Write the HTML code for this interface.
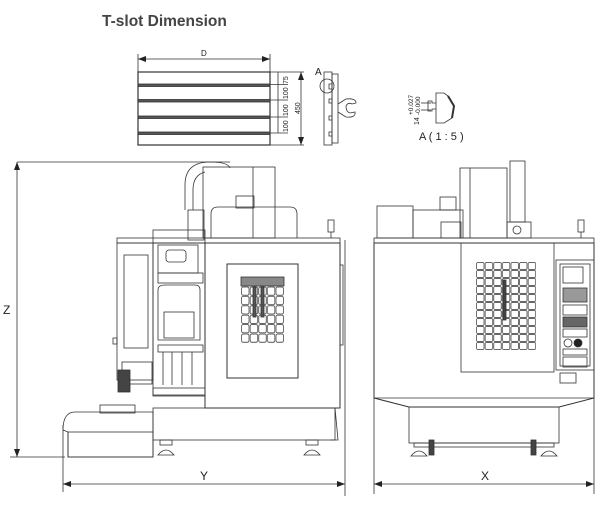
<!DOCTYPE html>
<html><head><meta charset="utf-8"><style>
html,body{margin:0;padding:0;background:#fff;}
svg{display:block;}
text{font-family:"Liberation Sans",Arial,sans-serif;fill:#222;}
</style></head><body>
<svg width="603" height="506" viewBox="0 0 603 506" xmlns="http://www.w3.org/2000/svg">
<defs>
<pattern id="g1" x="241" y="277" width="8.6" height="9.4" patternUnits="userSpaceOnUse">
<rect x="0.6" y="0.6" width="7.4" height="8.2" rx="1.5" fill="none" stroke="#333" stroke-width="0.7"/></pattern>
<pattern id="g2" x="476" y="262" width="8.6" height="8" patternUnits="userSpaceOnUse">
<rect x="0.6" y="0.6" width="7.4" height="6.8" rx="1" fill="none" stroke="#333" stroke-width="0.7"/></pattern>
<marker id="ar" markerWidth="8" markerHeight="6" refX="8" refY="3" orient="auto-start-reverse" markerUnits="userSpaceOnUse"><path d="M0,0 L8,3 L0,6z" fill="#222"/></marker>
</defs>
<text x="102" y="26" font-size="15.5" font-weight="bold" fill="#444" style="fill:#444">T-slot Dimension</text>

<g fill="none" stroke="#333" stroke-width="0.8">
<!-- T-slot table -->
<line x1="138" y1="54" x2="138" y2="72"/><line x1="270" y1="54" x2="270" y2="72"/>
<line x1="138" y1="59" x2="270" y2="59" marker-start="url(#ar)" marker-end="url(#ar)"/>
<rect x="138" y="72" width="132" height="73" stroke-width="1.2"/>
<rect x="138" y="84" width="132" height="2.5" fill="#555"/>
<rect x="138" y="99.5" width="132" height="2.5" fill="#555"/>
<rect x="138" y="116" width="132" height="2.5" fill="#555"/>
<rect x="138" y="132" width="132" height="2.5" fill="#555"/>
<line x1="270" y1="72" x2="304" y2="72"/><line x1="270" y1="145" x2="304" y2="145"/>
<line x1="270" y1="84.5" x2="288" y2="84.5"/><line x1="270" y1="100" x2="288" y2="100"/><line x1="270" y1="117" x2="288" y2="117"/><line x1="270" y1="133" x2="288" y2="133"/>
<line x1="278" y1="72" x2="278" y2="133"/>
<line x1="301" y1="72" x2="301" y2="145" marker-start="url(#ar)" marker-end="url(#ar)"/>
<!-- side view -->
<rect x="324" y="72" width="8" height="73"/>
<rect x="332" y="74" width="6" height="69"/>
<path d="M332,84 h-3 v5 h3 M332,99 h-3 v4 h3 M332,116 h-3 v4 h3 M332,132 h-3 v4 h3"/>
<path d="M338,104 L346,99 Q356,98 356,103 L352,104 Q348,102 346,106 Q346,112 350,113 L355,112 Q356,118 346,117 L338,112"/>
<circle cx="327" cy="86" r="7"/>
<!-- detail A -->
<path d="M436,93 h8 l4,3 l6,10 l-2,12 l-8,5 h-8 z"/>
<path d="M436,103 h-4 v-2 h-4 v10 h4 v-2 h4"/>
<path d="M448,96 l6,10 l-2,12" stroke-width="2"/>
<line x1="421" y1="103" x2="431" y2="103"/><line x1="421" y1="110" x2="431" y2="110"/>

<!-- LEFT MACHINE -->
<line x1="17" y1="162" x2="230" y2="162"/>
<line x1="10" y1="457" x2="65" y2="457"/>
<line x1="17" y1="162" x2="17" y2="457" marker-start="url(#ar)" marker-end="url(#ar)"/>
<line x1="63" y1="425" x2="63" y2="492"/><line x1="345" y1="240" x2="345" y2="496"/>
<line x1="63" y1="484" x2="345" y2="484" marker-start="url(#ar)" marker-end="url(#ar)"/>
<!-- duct -->
<path d="M185,210 V185 Q185,162 210,162 Q228,162 230,168"/>
<path d="M193,210 V190 Q193,175 205,172"/>
<rect x="188" y="210" width="16" height="30"/>
<rect x="203" y="167" width="72" height="71"/>
<line x1="253" y1="167" x2="253" y2="238"/>
<rect x="236" y="196" width="18" height="12"/>
<path d="M211,238 V214 Q211,207 218,207 H290 Q297,207 297,214 V238"/>
<rect x="153" y="230" width="52" height="13"/>
<rect x="117" y="238" width="223" height="5"/>
<rect x="328" y="220" width="6" height="12"/>
<line x1="331" y1="232" x2="331" y2="238"/>
<!-- main body -->
<rect x="205" y="243" width="135" height="165" stroke-width="1"/>
<rect x="227" y="264" width="71" height="114" stroke-width="1"/>
<rect x="241" y="277" width="43" height="66" fill="url(#g1)" stroke="none"/>
<rect x="241" y="277" width="43" height="9" fill="#888"/>
<rect x="253" y="287" width="3" height="30" fill="#555"/><rect x="261" y="287" width="3" height="30" fill="#555"/>
<rect x="340" y="265" width="3" height="80"/>
<!-- left panel -->
<rect x="117" y="243" width="36" height="137"/>
<rect x="124" y="255" width="24" height="93"/>
<rect x="113" y="338" width="4" height="6"/>
<!-- middle column -->
<rect x="153" y="243" width="52" height="152"/>
<rect x="158" y="245" width="40" height="28"/>
<rect x="166" y="250" width="20" height="12" rx="3"/>
<rect x="158" y="273" width="45" height="10"/>
<path d="M158,290 Q158,285 165,285 H195 Q200,285 200,290 V340 H158 Z"/>
<rect x="164" y="312" width="30" height="26"/>
<rect x="158" y="345" width="45" height="7"/>
<path d="M163,352 V385 M172,352 V385 M182,352 V385 M192,352 V385"/>
<rect x="153" y="388" width="52" height="8"/>
<rect x="122" y="362" width="30" height="22"/>
<rect x="118" y="370" width="12" height="22" fill="#444"/>
<!-- base -->
<rect x="153" y="408" width="182" height="32"/>
<path d="M335,408 L338,440 L330,440"/>
<rect x="160" y="440" width="12" height="5"/><path d="M158,455 q8,-10 16,0 z"/>
<rect x="306" y="440" width="12" height="5"/><path d="M304,455 q8,-10 16,0 z"/>
<!-- coolant tank -->
<path d="M63,430 Q63,412 75,412 H153 V457 H68 V432 Z"/>
<rect x="68" y="432" width="85" height="25"/>
<rect x="100" y="405" width="35" height="8"/>

<!-- RIGHT MACHINE -->
<line x1="374" y1="398" x2="374" y2="494"/><line x1="594" y1="380" x2="594" y2="494"/>
<line x1="374" y1="484" x2="594" y2="484" marker-start="url(#ar)" marker-end="url(#ar)"/>
<rect x="377" y="206" width="36" height="32"/>
<rect x="413" y="210" width="50" height="28"/>
<rect x="440" y="197" width="16" height="13"/>
<rect x="441" y="222" width="20" height="16"/>
<rect x="460" y="168" width="47" height="70"/>
<line x1="470" y1="168" x2="470" y2="238"/>
<rect x="510" y="161" width="15" height="61"/>
<rect x="507" y="222" width="24" height="16"/>
<circle cx="517" cy="230" r="4"/>
<rect x="578" y="220" width="6" height="12"/>
<line x1="581" y1="232" x2="581" y2="238"/>
<rect x="374" y="238" width="220" height="5"/>
<path d="M374,243 H594 V398 L559,407 H409 L374,398 Z" stroke-width="1"/>
<line x1="374" y1="398" x2="594" y2="398"/>
<rect x="461" y="243" width="93" height="129"/>
<rect x="476" y="262" width="60" height="88" fill="url(#g2)" stroke="none"/>
<rect x="503" y="280" width="3" height="40" fill="#444"/>
<rect x="556" y="260" width="38" height="110"/>
<rect x="560" y="264" width="30" height="102"/>
<rect x="563" y="267" width="20" height="16"/>
<rect x="563" y="288" width="24" height="14" fill="#999"/>
<rect x="563" y="305" width="24" height="10"/>
<rect x="563" y="317" width="24" height="10" fill="#666"/>
<rect x="563" y="329" width="24" height="8"/>
<circle cx="568" cy="343" r="4"/><circle cx="578" cy="343" r="4" fill="#222"/>
<rect x="563" y="349" width="24" height="6"/>
<rect x="563" y="357" width="24" height="10"/>
<rect x="560" y="373" width="16" height="10"/>
<rect x="409" y="407" width="150" height="36"/>
<rect x="414" y="443" width="140" height="4"/>
<path d="M411,456 q8,-10 16,0 z M541,456 q8,-10 16,0 z"/>
<rect x="429" y="440" width="5" height="15" fill="#444"/><rect x="531" y="440" width="5" height="15" fill="#444"/>
</g>

<g font-size="8">
<text x="201" y="56">D</text>
<text transform="translate(288,84) rotate(-90)" font-size="7">75</text>
<text transform="translate(288,99) rotate(-90)" font-size="7">100</text>
<text transform="translate(288,116) rotate(-90)" font-size="7">100</text>
<text transform="translate(288,132) rotate(-90)" font-size="7">100</text>
<text transform="translate(300,114) rotate(-90)" font-size="7">450</text>
<text x="315" y="75" font-size="10">A</text>
<text transform="translate(419,125) rotate(-90)" font-size="7">14</text>
<text transform="translate(413,115) rotate(-90)" font-size="6.5">+0.027</text>
<text transform="translate(420,115) rotate(-90)" font-size="6.5">-0.000</text>
<text x="419" y="140" font-size="11">A ( 1 : 5 )</text>
<text x="3" y="314" font-size="12">Z</text>
<text x="200" y="480" font-size="12">Y</text>
<text x="481" y="480" font-size="12">X</text>
</g>
</svg>
</body></html>
